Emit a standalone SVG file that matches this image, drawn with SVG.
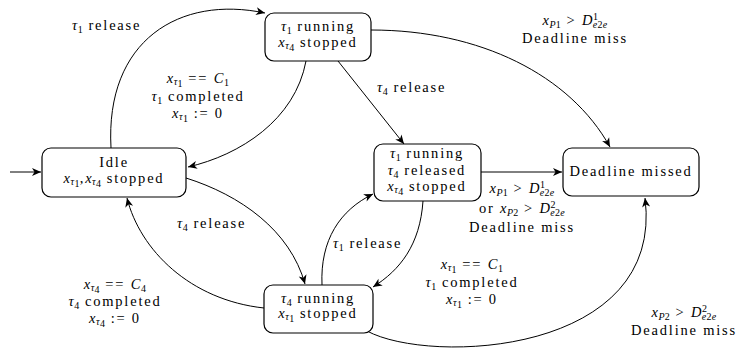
<svg xmlns="http://www.w3.org/2000/svg" width="739" height="350" viewBox="0 0 739 350">
  <defs>
    <marker id="arr" viewBox="-10 -5 12 10" refX="0" refY="0" markerWidth="12" markerHeight="10" markerUnits="userSpaceOnUse" orient="auto">
      <path d="M0,0 L-9,-4 L-6.5,0 L-9,4 Z" fill="#000"/>
    </marker>
    <style>
      .node rect { fill: #fff; stroke: #000; stroke-width: 1.2; }
      .edges path { fill: none; stroke: #000; stroke-width: 1; marker-end: url(#arr); }
      text { font-family: "Liberation Serif", "Times New Roman", serif; font-size: 14.5px; letter-spacing: 1.8px; fill: #000; }
      .c { text-anchor: middle; }
      .m { font-style: italic; letter-spacing: 0.5px; }
      .s { font-size: 10px; letter-spacing: 0.3px; }
    </style>
  </defs>
  <rect width="739" height="350" fill="#fff"/>

  <!-- transitions -->
  <g id="edges" class="edges">
    <path d="M10,172 H41"/>
    <path d="M111,148 C105,40 180,-5 265,13"/>
    <path d="M306,61 C295,120 240,155 188,167"/>
    <path d="M338,61 L404,144"/>
    <path d="M371,30 C480,30 570,75 610,147"/>
    <path d="M481,172 H562"/>
    <path d="M423,201 C420,245 400,270 373,287"/>
    <path d="M322,285 C320,240 340,210 373,194"/>
    <path d="M186,178 C240,195 290,230 305,284"/>
    <path d="M264,308 C190,300 140,250 127,198"/>
    <path d="M367,331 C430,365 665,355 645,198"/>
  </g>

  <!-- states -->
  <g id="idle" class="node">
    <rect x="42" y="148" width="144" height="49" rx="9"/>
    <text class="c" x="114" y="167">Idle</text>
    <text class="c" x="114" y="183"><tspan class="m">x</tspan><tspan class="m s" dy="2">τ</tspan><tspan class="s" dy="1.5">1</tspan><tspan dy="-3.5">,</tspan><tspan class="m">x</tspan><tspan class="m s" dy="2">τ</tspan><tspan class="s" dy="1.5">4</tspan><tspan dy="-3.5"> stopped</tspan></text>
  </g>

  <g id="t1run" class="node">
    <rect x="265" y="13" width="106" height="48" rx="9"/>
    <text class="c" x="318" y="31"><tspan class="m">τ</tspan><tspan class="s" dy="3">1</tspan><tspan dy="-3"> running</tspan></text>
    <text class="c" x="318" y="47"><tspan class="m">x</tspan><tspan class="m s" dy="2">τ</tspan><tspan class="s" dy="1.5">4</tspan><tspan dy="-3.5"> stopped</tspan></text>
  </g>

  <g id="t1run-t4rel" class="node">
    <rect x="374" y="144" width="107" height="57" rx="9"/>
    <text class="c" x="427" y="158"><tspan class="m">τ</tspan><tspan class="s" dy="3">1</tspan><tspan dy="-3"> running</tspan></text>
    <text class="c" x="427" y="175"><tspan class="m">τ</tspan><tspan class="s" dy="3">4</tspan><tspan dy="-3"> released</tspan></text>
    <text class="c" x="427" y="191"><tspan class="m">x</tspan><tspan class="m s" dy="2">τ</tspan><tspan class="s" dy="1.5">4</tspan><tspan dy="-3.5"> stopped</tspan></text>
  </g>

  <g id="t4run" class="node">
    <rect x="264" y="285" width="109" height="48" rx="9"/>
    <text class="c" x="318" y="303"><tspan class="m">τ</tspan><tspan class="s" dy="3">4</tspan><tspan dy="-3"> running</tspan></text>
    <text class="c" x="318" y="318"><tspan class="m">x</tspan><tspan class="m s" dy="2">τ</tspan><tspan class="s" dy="1.5">1</tspan><tspan dy="-3.5"> stopped</tspan></text>
  </g>

  <g id="missed" class="node">
    <rect x="563" y="148" width="136" height="48" rx="9"/>
    <text class="c" x="631" y="176">Deadline missed</text>
  </g>

  <!-- transition labels -->
  <g id="labels">
    <text x="72" y="30"><tspan class="m">τ</tspan><tspan class="s" dy="3">1</tspan><tspan dy="-3"> release</tspan></text>

    <text class="c" x="198" y="83"><tspan class="m">x</tspan><tspan class="m s" dy="2">τ</tspan><tspan class="s" dy="1.5">1</tspan><tspan dy="-3.5"> == </tspan><tspan class="m">C</tspan><tspan class="s" dy="2.5">1</tspan></text>
    <text class="c" x="198" y="101"><tspan class="m">τ</tspan><tspan class="s" dy="2.5">1</tspan><tspan dy="-2.5"> completed</tspan></text>
    <text class="c" x="198" y="118"><tspan class="m">x</tspan><tspan class="m s" dy="2">τ</tspan><tspan class="s" dy="1.5">1</tspan><tspan dy="-3.5"> := 0</tspan></text>

    <text x="377" y="92"><tspan class="m">τ</tspan><tspan class="s" dy="3">4</tspan><tspan dy="-3"> release</tspan></text>

    <text class="c" x="575" y="25"><tspan class="m">x</tspan><tspan class="m s" dy="2.5">P</tspan><tspan class="s">1</tspan><tspan dy="-2.5"> &gt; </tspan><tspan class="m">D</tspan><tspan class="s" dy="-5">1</tspan><tspan class="m s" dx="-5.5" dy="8">e</tspan><tspan class="s">2</tspan><tspan class="m s">e</tspan></text>
    <text class="c" x="575" y="43">Deadline miss</text>

    <text class="c" x="522" y="193"><tspan class="m">x</tspan><tspan class="m s" dy="2.5">P</tspan><tspan class="s">1</tspan><tspan dy="-2.5"> &gt; </tspan><tspan class="m">D</tspan><tspan class="s" dy="-5">1</tspan><tspan class="m s" dx="-5.5" dy="8">e</tspan><tspan class="s">2</tspan><tspan class="m s">e</tspan></text>
    <text class="c" x="522" y="213">or <tspan class="m">x</tspan><tspan class="m s" dy="2.5">P</tspan><tspan class="s">2</tspan><tspan dy="-2.5"> &gt; </tspan><tspan class="m">D</tspan><tspan class="s" dy="-5">2</tspan><tspan class="m s" dx="-5.5" dy="8">e</tspan><tspan class="s">2</tspan><tspan class="m s">e</tspan></text>
    <text class="c" x="522" y="232">Deadline miss</text>

    <text x="333" y="248"><tspan class="m">τ</tspan><tspan class="s" dy="3">1</tspan><tspan dy="-3"> release</tspan></text>

    <text class="c" x="472" y="269"><tspan class="m">x</tspan><tspan class="m s" dy="2">τ</tspan><tspan class="s" dy="1.5">1</tspan><tspan dy="-3.5"> == </tspan><tspan class="m">C</tspan><tspan class="s" dy="2.5">1</tspan></text>
    <text class="c" x="472" y="287"><tspan class="m">τ</tspan><tspan class="s" dy="2.5">1</tspan><tspan dy="-2.5"> completed</tspan></text>
    <text class="c" x="472" y="304"><tspan class="m">x</tspan><tspan class="m s" dy="2">τ</tspan><tspan class="s" dy="1.5">1</tspan><tspan dy="-3.5"> := 0</tspan></text>

    <text x="177" y="228"><tspan class="m">τ</tspan><tspan class="s" dy="3">4</tspan><tspan dy="-3"> release</tspan></text>

    <text class="c" x="115" y="289"><tspan class="m">x</tspan><tspan class="m s" dy="2">τ</tspan><tspan class="s" dy="1.5">4</tspan><tspan dy="-3.5"> == </tspan><tspan class="m">C</tspan><tspan class="s" dy="2.5">4</tspan></text>
    <text class="c" x="115" y="306"><tspan class="m">τ</tspan><tspan class="s" dy="2.5">4</tspan><tspan dy="-2.5"> completed</tspan></text>
    <text class="c" x="115" y="323"><tspan class="m">x</tspan><tspan class="m s" dy="2">τ</tspan><tspan class="s" dy="1.5">4</tspan><tspan dy="-3.5"> := 0</tspan></text>

    <text class="c" x="684" y="317"><tspan class="m">x</tspan><tspan class="m s" dy="2.5">P</tspan><tspan class="s">2</tspan><tspan dy="-2.5"> &gt; </tspan><tspan class="m">D</tspan><tspan class="s" dy="-5">2</tspan><tspan class="m s" dx="-5.5" dy="8">e</tspan><tspan class="s">2</tspan><tspan class="m s">e</tspan></text>
    <text class="c" x="684" y="335">Deadline miss</text>
  </g>
</svg>
